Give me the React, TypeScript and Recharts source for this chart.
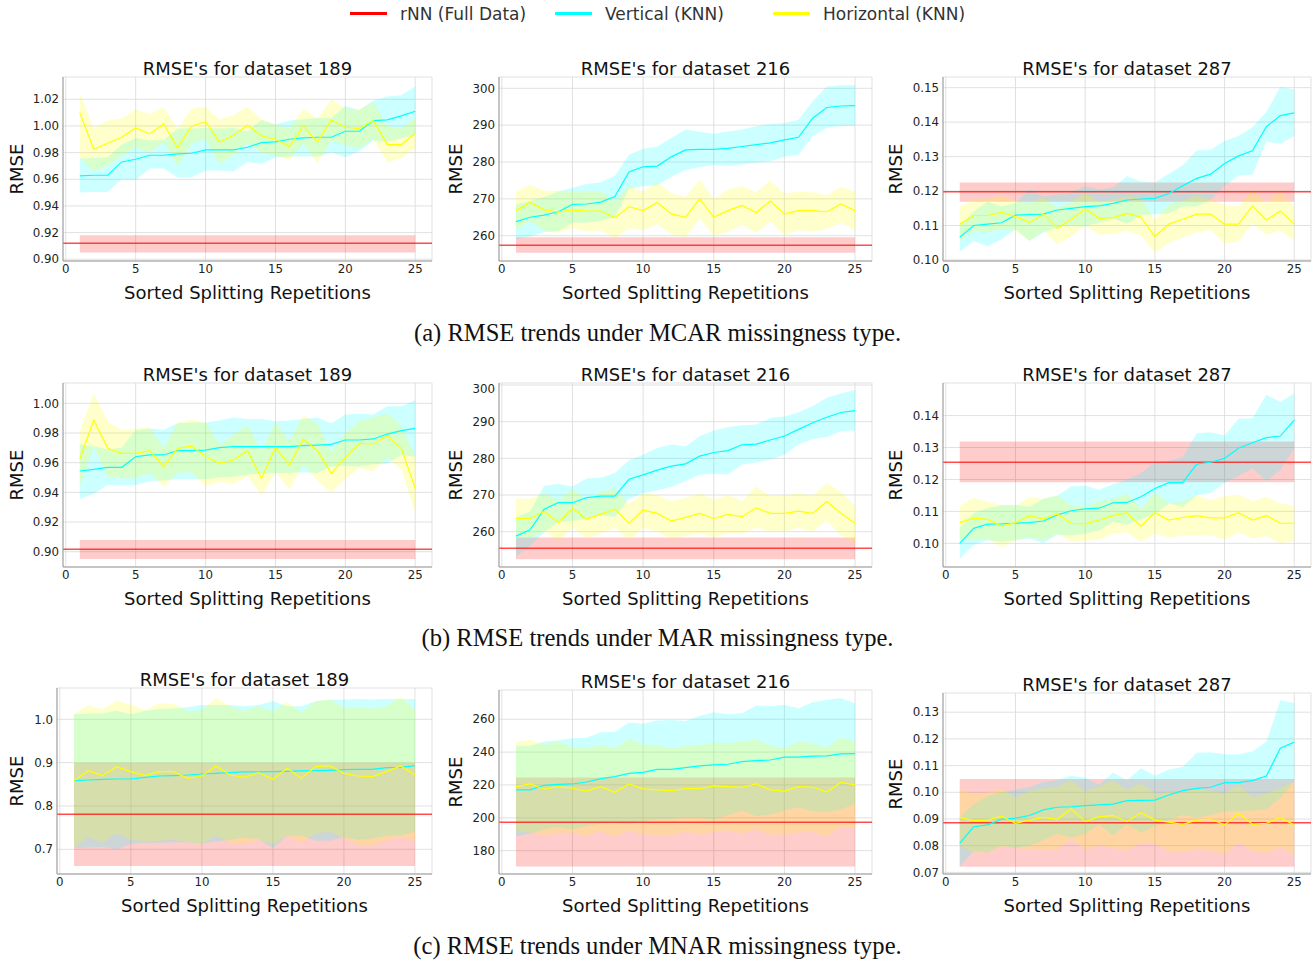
import {
  ComposedChart,
  Area,
  Line,
  XAxis,
  YAxis,
  CartesianGrid,
  ReferenceLine,
} from 'recharts'

const REPS = Array.from({ length: 25 }, (_, i) => i + 1)
const X_TICKS = [0, 5, 10, 15, 20, 25]

/* ───── MCAR ───── */
const mcar189Red = [0.912, 0.905, 0.918] // mean, lo, hi
const mcar189CyanMean = [0.9625, 0.963, 0.963, 0.973, 0.975, 0.978, 0.978, 0.979, 0.9795, 0.982, 0.982, 0.982, 0.984, 0.9875, 0.988, 0.99, 0.991, 0.9915, 0.9915, 0.996, 0.996, 1.004, 1.0045, 1.0075, 1.011]
const mcar189CyanLo = [0.95, 0.9505, 0.9505, 0.96, 0.9595, 0.968, 0.968, 0.9615, 0.9615, 0.9665, 0.9665, 0.966, 0.973, 0.9715, 0.9765, 0.977, 0.977, 0.977, 0.98, 0.9765, 0.981, 0.989, 0.988, 0.9905, 0.993]
const mcar189CyanHi = [0.9755, 0.976, 0.9765, 0.986, 0.991, 0.989, 0.9895, 0.998, 0.998, 0.9985, 0.998, 0.9985, 0.996, 1.0045, 1.001, 1.004, 1.005, 1.006, 1.006, 1.015, 1.012, 1.019, 1.022, 1.023, 1.0295]
const mcar189YellowMean = [1.01, 0.9825, 0.987, 0.9915, 0.9985, 0.994, 1.0015, 0.9835, 1.0, 1.003, 0.988, 0.993, 1.0005, 0.9925, 0.99, 0.9845, 1.0, 0.988, 1.0045, 0.999, 0.998, 1.004, 0.986, 0.986, 0.9945]
const mcar189YellowLo = [0.976, 0.966, 0.9705, 0.9775, 0.984, 0.98, 0.988, 0.97, 0.987, 0.99, 0.9715, 0.978, 0.987, 0.98, 0.978, 0.9745, 0.987, 0.972, 0.989, 0.9855, 0.9835, 0.99, 0.973, 0.9755, 0.983]
const mcar189YellowHi = [1.0245, 0.9985, 1.004, 1.0055, 1.0125, 1.009, 1.014, 0.998, 1.013, 1.0145, 1.005, 1.008, 1.0145, 1.005, 1.001, 0.998, 1.013, 1.0055, 1.02, 1.013, 1.012, 1.0175, 0.9995, 0.998, 1.006]

const mcar216Red = [257.4, 255.4, 259.6]
const mcar216CyanMean = [263.8, 265.0, 265.6, 266.5, 268.5, 268.6, 269.1, 270.6, 277.3, 278.7, 278.9, 281.4, 283.3, 283.4, 283.4, 283.7, 284.2, 284.7, 285.2, 286.0, 286.7, 291.9, 294.8, 295.2, 295.3]
const mcar216CyanLo = [259.2, 259.8, 261.0, 261.2, 263.5, 263.5, 264.0, 265.0, 272.7, 273.5, 273.7, 276.0, 277.8, 278.6, 279.2, 279.0, 279.3, 279.8, 280.2, 281.4, 282.0, 287.0, 289.3, 289.8, 289.8]
const mcar216CyanHi = [268.5, 269.5, 270.5, 272.0, 273.0, 274.0, 274.5, 276.3, 282.0, 283.6, 284.2, 286.5, 288.8, 288.2, 287.7, 288.3, 288.8, 289.7, 290.3, 290.6, 291.5, 296.5, 300.5, 300.8, 300.9]
const mcar216YellowMean = [266.8, 269.0, 267.0, 266.4, 267.0, 266.7, 266.7, 264.9, 267.9, 266.8, 269.0, 265.9, 265.0, 270.0, 265.0, 266.8, 268.2, 266.3, 269.4, 265.9, 266.8, 266.8, 266.5, 268.6, 266.8]
const mcar216YellowLo = [261.6, 264.0, 261.4, 260.7, 262.0, 261.2, 261.4, 259.3, 262.0, 261.5, 263.2, 260.3, 259.6, 264.6, 260.0, 261.0, 263.0, 260.8, 263.8, 260.2, 261.5, 261.2, 261.8, 263.5, 261.5]
const mcar216YellowHi = [272.0, 273.8, 272.2, 272.2, 272.0, 272.2, 272.0, 269.5, 273.5, 272.0, 274.5, 271.5, 270.5, 275.2, 270.0, 272.5, 273.5, 271.8, 275.0, 271.3, 272.0, 271.8, 271.0, 273.3, 272.0]

const mcar287Red = [0.1198, 0.1169, 0.1225]
const mcar287CyanMean = [0.1066, 0.11, 0.1104, 0.1108, 0.113, 0.1132, 0.1133, 0.1145, 0.115, 0.1155, 0.1157, 0.1164, 0.1174, 0.1177, 0.1179, 0.1193, 0.1215, 0.1237, 0.1249, 0.128, 0.1302, 0.1317, 0.1387, 0.1419, 0.1427]
const mcar287CyanLo = [0.1023, 0.1055, 0.104, 0.106, 0.109, 0.1055, 0.108, 0.1095, 0.11, 0.1097, 0.1108, 0.112, 0.1105, 0.113, 0.1133, 0.1135, 0.1155, 0.1155, 0.1175, 0.1215, 0.1245, 0.1248, 0.1343, 0.1337, 0.136]
const mcar287CyanHi = [0.11, 0.114, 0.117, 0.1155, 0.1165, 0.1205, 0.1185, 0.119, 0.1195, 0.1215, 0.1205, 0.121, 0.1243, 0.1228, 0.1225, 0.125, 0.1275, 0.1318, 0.132, 0.1345, 0.136, 0.1385, 0.143, 0.1502, 0.1495]
const mcar287YellowMean = [0.1104, 0.1129, 0.1129, 0.1138, 0.1126, 0.1109, 0.1133, 0.1092, 0.1118, 0.1148, 0.1121, 0.1123, 0.1135, 0.1124, 0.1068, 0.1104, 0.1118, 0.1133, 0.1133, 0.1104, 0.1104, 0.1157, 0.1116, 0.1142, 0.1104]
const mcar287YellowLo = [0.1055, 0.1085, 0.108, 0.109, 0.1085, 0.1055, 0.1085, 0.1045, 0.1068, 0.11, 0.1073, 0.1075, 0.1085, 0.1072, 0.102, 0.105, 0.1065, 0.108, 0.1087, 0.1048, 0.1055, 0.1105, 0.1073, 0.1085, 0.1055]
const mcar287YellowHi = [0.1155, 0.1175, 0.1178, 0.1188, 0.1172, 0.1165, 0.1183, 0.115, 0.1168, 0.1195, 0.117, 0.1175, 0.1185, 0.118, 0.1115, 0.116, 0.1172, 0.1187, 0.1175, 0.116, 0.1155, 0.1205, 0.1165, 0.12, 0.1155]

/* ───── MAR ───── */
const mar189Red = [0.9016, 0.8951, 0.9079]
const mar189CyanMean = [0.9544, 0.9555, 0.9569, 0.9569, 0.964, 0.9652, 0.9652, 0.9681, 0.9681, 0.9685, 0.9701, 0.9708, 0.9708, 0.9708, 0.9708, 0.9708, 0.9715, 0.9719, 0.9724, 0.9753, 0.9753, 0.976, 0.9793, 0.9816, 0.9831]
const mar189CyanLo = [0.9355, 0.939, 0.945, 0.945, 0.945, 0.9475, 0.948, 0.949, 0.949, 0.949, 0.95, 0.9505, 0.952, 0.9525, 0.953, 0.953, 0.9535, 0.953, 0.9575, 0.958, 0.9575, 0.959, 0.9595, 0.965, 0.964]
const mar189CyanHi = [0.9725, 0.971, 0.969, 0.97, 0.982, 0.983, 0.982, 0.9865, 0.987, 0.987, 0.9885, 0.9905, 0.9895, 0.9895, 0.988, 0.9885, 0.9895, 0.9905, 0.9865, 0.9925, 0.993, 0.9925, 0.998, 0.998, 1.002]
const mar189YellowMean = [0.9625, 0.9888, 0.9697, 0.9663, 0.9663, 0.9681, 0.9573, 0.9697, 0.9712, 0.964, 0.9596, 0.9618, 0.9681, 0.9494, 0.9703, 0.9584, 0.976, 0.9681, 0.9528, 0.9636, 0.973, 0.9726, 0.978, 0.9697, 0.9427]
const mar189YellowLo = [0.944, 0.971, 0.9505, 0.9495, 0.9495, 0.953, 0.944, 0.953, 0.9535, 0.944, 0.947, 0.946, 0.951, 0.938, 0.9535, 0.942, 0.959, 0.948, 0.9395, 0.949, 0.9565, 0.954, 0.9635, 0.9555, 0.926]
const mar189YellowHi = [0.981, 1.007, 0.988, 0.982, 0.983, 0.9835, 0.97, 0.987, 0.989, 0.987, 0.972, 0.979, 0.985, 0.968, 0.987, 0.9745, 0.992, 0.986, 0.967, 0.98, 0.988, 0.9905, 0.993, 0.985, 0.964]

const mar216Red = [255.45, 252.5, 258.4]
const mar216CyanMean = [258.8, 260.5, 266.1, 267.9, 267.9, 269.3, 269.7, 269.7, 274.3, 275.5, 276.8, 277.9, 278.5, 280.6, 281.6, 282.1, 283.7, 283.9, 285.0, 286.1, 287.9, 289.7, 291.2, 292.5, 293.0]
const mar216CyanLo = [253.2, 256.0, 260.0, 262.5, 263.0, 263.5, 264.5, 264.0, 269.0, 270.5, 271.3, 272.2, 273.8, 275.5, 275.8, 275.6, 278.3, 278.9, 279.6, 281.0, 283.8, 285.3, 285.8, 287.4, 287.6]
const mar216CyanHi = [264.0, 265.5, 272.5, 273.0, 272.3, 274.5, 274.7, 276.0, 279.5, 281.0, 282.8, 283.8, 283.2, 286.0, 287.6, 288.5, 289.0, 289.2, 291.0, 291.4, 292.5, 294.3, 296.5, 297.7, 298.7]
const mar216YellowMean = [263.6, 263.6, 265.5, 262.5, 266.4, 263.4, 264.8, 266.1, 262.3, 265.9, 265.0, 262.9, 263.9, 265.0, 263.6, 264.7, 264.1, 266.5, 265.0, 265.0, 265.6, 265.0, 268.2, 265.0, 262.3]
const mar216YellowLo = [258.3, 258.2, 260.2, 257.5, 261.0, 258.2, 259.5, 261.0, 257.8, 261.0, 260.0, 258.0, 258.8, 259.5, 258.5, 259.5, 259.5, 261.0, 260.0, 260.0, 261.0, 260.0, 263.0, 259.0, 256.8]
const mar216YellowHi = [269.0, 269.0, 270.5, 268.5, 271.7, 268.5, 270.8, 271.8, 267.5, 270.5, 270.0, 268.3, 269.2, 270.5, 268.8, 270.0, 268.4, 272.3, 269.8, 269.8, 270.5, 269.8, 273.2, 270.8, 267.0]

const mar287Red = [0.1254, 0.1191, 0.1319]
const mar287CyanMean = [0.1, 0.1047, 0.106, 0.1061, 0.1063, 0.1065, 0.107, 0.1089, 0.1102, 0.1108, 0.111, 0.1127, 0.1128, 0.1146, 0.1172, 0.119, 0.119, 0.1248, 0.1254, 0.1266, 0.1298, 0.1315, 0.1331, 0.1336, 0.1386]
const mar287CyanLo = [0.0952, 0.0995, 0.101, 0.1005, 0.101, 0.1015, 0.1, 0.1028, 0.1025, 0.103, 0.104, 0.1068, 0.1058, 0.1075, 0.109, 0.1125, 0.1115, 0.115, 0.1158, 0.119, 0.121, 0.1235, 0.1195, 0.123, 0.1298]
const mar287CyanHi = [0.105, 0.1095, 0.111, 0.112, 0.112, 0.1115, 0.114, 0.115, 0.1178, 0.118, 0.1168, 0.1185, 0.12, 0.122, 0.1255, 0.1258, 0.127, 0.1345, 0.1348, 0.1338, 0.139, 0.1392, 0.1465, 0.1443, 0.147]
const mar287YellowMean = [0.1065, 0.1078, 0.1075, 0.1054, 0.1065, 0.1086, 0.1077, 0.1092, 0.1063, 0.1061, 0.1073, 0.1087, 0.1096, 0.1054, 0.1096, 0.1073, 0.1081, 0.1087, 0.108, 0.108, 0.1096, 0.1073, 0.1087, 0.1063, 0.1063]
const mar287YellowLo = [0.1012, 0.1012, 0.1015, 0.0988, 0.101, 0.102, 0.101, 0.103, 0.1005, 0.1008, 0.1012, 0.103, 0.1035, 0.1005, 0.103, 0.1018, 0.1025, 0.1025, 0.1025, 0.1012, 0.1035, 0.1015, 0.1022, 0.1, 0.1008]
const mar287YellowHi = [0.1118, 0.1143, 0.113, 0.112, 0.1118, 0.1145, 0.114, 0.115, 0.112, 0.1115, 0.1132, 0.114, 0.1155, 0.1108, 0.116, 0.1125, 0.113, 0.115, 0.1135, 0.1148, 0.1152, 0.1132, 0.1145, 0.1125, 0.1118]

/* ───── MNAR ───── */
const mnar189Red = [0.7808, 0.6615, 0.9]
const mnar189CyanMean = [0.8585, 0.86, 0.8615, 0.8623, 0.8623, 0.8662, 0.8692, 0.87, 0.8715, 0.8738, 0.8754, 0.8769, 0.8785, 0.8785, 0.8792, 0.88, 0.8808, 0.8815, 0.8823, 0.8838, 0.8846, 0.8846, 0.8885, 0.8892, 0.8931]
const mnar189CyanLo = [0.703, 0.704, 0.706, 0.7, 0.713, 0.715, 0.715, 0.716, 0.716, 0.713, 0.718, 0.722, 0.727, 0.723, 0.703, 0.731, 0.731, 0.72, 0.72, 0.728, 0.722, 0.725, 0.731, 0.731, 0.741]
const mnar189CyanHi = [1.012, 1.013, 1.014, 1.02, 1.012, 1.02, 1.024, 1.025, 1.028, 1.033, 1.033, 1.033, 1.03, 1.033, 1.042, 1.03, 1.03, 1.042, 1.045, 1.045, 1.047, 1.046, 1.047, 1.047, 1.047]
const mnar189YellowMean = [0.8585, 0.8815, 0.87, 0.8908, 0.8792, 0.87, 0.8792, 0.8792, 0.8638, 0.8692, 0.8923, 0.8715, 0.8662, 0.8769, 0.8615, 0.8869, 0.8638, 0.8908, 0.8931, 0.8754, 0.8692, 0.8677, 0.8792, 0.8923, 0.8715]
const mnar189YellowLo = [0.703, 0.729, 0.715, 0.737, 0.722, 0.718, 0.72, 0.722, 0.716, 0.713, 0.732, 0.715, 0.713, 0.722, 0.713, 0.731, 0.715, 0.737, 0.74, 0.726, 0.71, 0.708, 0.722, 0.728, 0.72]
const mnar189YellowHi = [1.013, 1.032, 1.023, 1.043, 1.034, 1.021, 1.037, 1.036, 1.019, 1.021, 1.049, 1.03, 1.019, 1.03, 1.018, 1.04, 1.016, 1.042, 1.046, 1.027, 1.027, 1.025, 1.03, 1.052, 1.022]

const mnar216Red = [197.3, 170.3, 224.5]
const mnar216CyanMean = [217.0, 217.0, 219.8, 220.4, 220.6, 221.8, 223.9, 225.1, 227.1, 227.7, 229.5, 229.5, 230.6, 231.6, 232.2, 232.6, 234.2, 234.8, 235.2, 236.9, 236.9, 237.5, 237.7, 238.9, 239.1]
const mnar216CyanLo = [188.8, 190.5, 193.0, 194.5, 193.0, 195.0, 196.5, 197.0, 196.0, 198.0, 199.0, 199.0, 200.5, 200.0, 199.0, 201.5, 204.5, 201.0, 202.0, 204.5, 206.5, 204.0, 203.5, 205.0, 208.5]
const mnar216CyanHi = [243.8, 243.8, 246.4, 247.2, 248.4, 248.8, 252.1, 252.3, 258.0, 257.2, 259.2, 259.6, 259.0, 262.0, 264.3, 263.0, 263.7, 268.3, 268.1, 268.7, 266.7, 270.4, 271.8, 272.8, 269.7]
const mnar216YellowMean = [219.0, 220.6, 217.4, 219.0, 218.0, 216.3, 219.0, 215.5, 220.6, 217.6, 217.0, 216.5, 217.8, 217.8, 219.4, 219.0, 218.6, 220.6, 217.0, 216.3, 219.0, 218.6, 215.7, 221.6, 220.0]
const mnar216YellowLo = [192.5, 191.0, 189.5, 190.8, 191.0, 189.0, 192.0, 188.5, 192.5, 190.0, 189.5, 189.5, 191.5, 190.0, 191.5, 192.5, 190.5, 193.0, 190.0, 189.8, 191.0, 191.5, 188.5, 194.5, 194.0]
const mnar216YellowHi = [246.4, 247.4, 244.4, 246.4, 242.9, 242.3, 244.4, 242.3, 248.0, 244.8, 244.0, 242.3, 243.8, 244.4, 245.8, 245.4, 246.4, 247.8, 243.8, 242.3, 246.4, 245.4, 242.9, 248.8, 246.4]

const mnar287Red = [0.0886, 0.0721, 0.105]
const mnar287CyanMean = [0.0809, 0.0871, 0.0878, 0.0899, 0.0903, 0.0913, 0.0934, 0.0944, 0.0946, 0.095, 0.0953, 0.0956, 0.0969, 0.097, 0.0971, 0.099, 0.1006, 0.1015, 0.1019, 0.1036, 0.1036, 0.1044, 0.1061, 0.1165, 0.1188]
const mnar287CyanLo = [0.072, 0.078, 0.0775, 0.08, 0.079, 0.08, 0.082, 0.0845, 0.083, 0.0845, 0.088, 0.0838, 0.088, 0.0848, 0.0875, 0.0895, 0.0915, 0.0905, 0.0915, 0.0928, 0.093, 0.0932, 0.0935, 0.098, 0.104]
const mnar287CyanHi = [0.0905, 0.0955, 0.0985, 0.1, 0.101, 0.102, 0.104, 0.1045, 0.1062, 0.1055, 0.1028, 0.1073, 0.1045, 0.109, 0.1062, 0.1085, 0.1095, 0.1148, 0.115, 0.1143, 0.1143, 0.1153, 0.119, 0.1345, 0.1335]
const mnar287YellowMean = [0.0906, 0.0894, 0.0896, 0.0911, 0.0884, 0.0896, 0.0906, 0.0899, 0.0938, 0.089, 0.0909, 0.0913, 0.089, 0.0924, 0.0896, 0.0888, 0.088, 0.0896, 0.09, 0.0878, 0.0921, 0.088, 0.0884, 0.0905, 0.0878]
const mnar287YellowLo = [0.08, 0.0775, 0.0775, 0.0795, 0.079, 0.0788, 0.0785, 0.0785, 0.0825, 0.0785, 0.08, 0.079, 0.0782, 0.081, 0.0805, 0.078, 0.0775, 0.0788, 0.0782, 0.077, 0.0812, 0.078, 0.0772, 0.0795, 0.0765]
const mnar287YellowHi = [0.101, 0.0995, 0.0998, 0.1015, 0.0981, 0.1005, 0.1015, 0.102, 0.1046, 0.1003, 0.1022, 0.1044, 0.1009, 0.1034, 0.0996, 0.1, 0.1005, 0.1015, 0.1005, 0.0996, 0.1028, 0.0981, 0.0996, 0.1015, 0.104]

const TICKS_189_A = [0.9, 0.92, 0.94, 0.96, 0.98, 1.0, 1.02]
const TICKS_189_B = [0.9, 0.92, 0.94, 0.96, 0.98, 1.0]
const TICKS_189_C = [0.7, 0.8, 0.9, 1.0]
const TICKS_216_AB = [260, 270, 280, 290, 300]
const TICKS_216_C = [180, 200, 220, 240, 260]
const TICKS_287_A = [0.1, 0.11, 0.12, 0.13, 0.14, 0.15]
const TICKS_287_B = [0.1, 0.11, 0.12, 0.13, 0.14]
const TICKS_287_C = [0.07, 0.08, 0.09, 0.1, 0.11, 0.12, 0.13]

const CAPTIONS = [
  '(a) RMSE trends under MCAR missingness type.',
  '(b) RMSE trends under MAR missingness type.',
  '(c) RMSE trends under MNAR missingness type.',
]

const RED = '#ff0000'
const CYAN = '#00ffff'
const YELLOW = '#ffff00'

// plot-area boxes: [x0, y0, x1, y1]
const PANELS = [
  { title: "RMSE's for dataset 189", box: [63, 77, 432, 261], dom: [0.8987, 1.0367], ticks: TICKS_189_A, dig: 2, ylx: 17, red: mcar189Red, cm: mcar189CyanMean, cl: mcar189CyanLo, ch: mcar189CyanHi, ym: mcar189YellowMean, yl: mcar189YellowLo, yh: mcar189YellowHi },
  { title: "RMSE's for dataset 216", box: [499, 77, 872, 261], dom: [253.13, 303.07], ticks: TICKS_216_AB, dig: 0, ylx: 456, red: mcar216Red, cm: mcar216CyanMean, cl: mcar216CyanLo, ch: mcar216CyanHi, ym: mcar216YellowMean, yl: mcar216YellowLo, yh: mcar216YellowHi },
  { title: "RMSE's for dataset 287", box: [943, 77, 1311, 261], dom: [0.0997, 0.1531], ticks: TICKS_287_A, dig: 2, ylx: 896, red: mcar287Red, cm: mcar287CyanMean, cl: mcar287CyanLo, ch: mcar287CyanHi, ym: mcar287YellowMean, yl: mcar287YellowLo, yh: mcar287YellowHi },
  { title: "RMSE's for dataset 189", box: [63, 383, 432, 567], dom: [0.8897, 1.0137], ticks: TICKS_189_B, dig: 2, ylx: 17, red: mar189Red, cm: mar189CyanMean, cl: mar189CyanLo, ch: mar189CyanHi, ym: mar189YellowMean, yl: mar189YellowLo, yh: mar189YellowHi },
  { title: "RMSE's for dataset 216", box: [499, 383, 872, 567], dom: [250.37, 300.55], ticks: TICKS_216_AB, dig: 0, ylx: 456, red: mar216Red, cm: mar216CyanMean, cl: mar216CyanLo, ch: mar216CyanHi, ym: mar216YellowMean, yl: mar216YellowLo, yh: mar216YellowHi },
  { title: "RMSE's for dataset 287", box: [943, 383, 1311, 567], dom: [0.0926, 0.1502], ticks: TICKS_287_B, dig: 2, ylx: 896, red: mar287Red, cm: mar287CyanMean, cl: mar287CyanLo, ch: mar287CyanHi, ym: mar287YellowMean, yl: mar287YellowLo, yh: mar287YellowHi },
  { title: "RMSE's for dataset 189", box: [57, 688, 432, 874], dom: [0.643, 1.0723], ticks: TICKS_189_C, dig: 1, ylx: 17, red: mnar189Red, cm: mnar189CyanMean, cl: mnar189CyanLo, ch: mnar189CyanHi, ym: mnar189YellowMean, yl: mnar189YellowLo, yh: mnar189YellowHi },
  { title: "RMSE's for dataset 216", box: [499, 690, 872, 874], dom: [165.8, 277.8], ticks: TICKS_216_C, dig: 0, ylx: 456, red: mnar216Red, cm: mnar216CyanMean, cl: mnar216CyanLo, ch: mnar216CyanHi, ym: mnar216YellowMean, yl: mnar216YellowLo, yh: mnar216YellowHi },
  { title: "RMSE's for dataset 287", box: [943, 693, 1311, 874], dom: [0.0694, 0.1372], ticks: TICKS_287_C, dig: 2, ylx: 896, red: mnar287Red, cm: mnar287CyanMean, cl: mnar287CyanLo, ch: mnar287CyanHi, ym: mnar287YellowMean, yl: mnar287YellowLo, yh: mnar287YellowHi },
]

const YW = 56
const MT = 2
const MR = 2
const XH = 44
const tickStyle = { fontSize: 11.8, fill: '#222', fontFamily: 'DejaVu Sans' }

function Panel({ p }: { p: any }) {
  const [x0, y0, x1, y1] = p.box
  const left = x0 - YW
  const top = y0 - MT
  const width = x1 - x0 + YW + MR
  const height = y1 - y0 + MT + XH
  const rows = REPS.map((x, i) => ({
    x,
    redBand: [p.red[1], p.red[2]],
    cyanBand: [p.cl[i], p.ch[i]],
    yellowBand: [p.yl[i], p.yh[i]],
    cyan: p.cm[i],
    yellow: p.ym[i],
  }))
  const cy = (y0 + y1) / 2
  return (
    <>
      <div style={{ position: 'absolute', left: x0, width: x1 - x0, top: y0 - 19, height: 22, lineHeight: '22px', textAlign: 'center', fontSize: 18, color: '#111' }}>
        {p.title}
      </div>
      <div style={{ position: 'absolute', left, top }}>
        <ComposedChart width={width} height={height} data={rows} margin={{ top: MT, right: MR, bottom: 0, left: 0 }}>
          <CartesianGrid stroke="#d9d9d9" strokeWidth={0.8} />
          <XAxis
            type="number"
            dataKey="x"
            domain={[-0.2, 26.2]}
            ticks={X_TICKS}
            allowDataOverflow
            height={XH}
            axisLine={{ stroke: '#999' }}
            tickLine={false}
            tickSize={4}
            tickMargin={0}
            tick={tickStyle}
          />
          <YAxis
            type="number"
            domain={p.dom}
            ticks={p.ticks}
            allowDataOverflow
            width={YW}
            axisLine={{ stroke: '#999' }}
            tickLine={false}
            tickSize={3}
            tickMargin={1}
            tick={tickStyle}
            tickFormatter={(v: number) => v.toFixed(p.dig)}
          />
          <Area type="linear" dataKey="redBand" stroke="none" fill={RED} fillOpacity={0.2} activeDot={false} isAnimationActive={false} />
          <Area type="linear" dataKey="cyanBand" stroke="none" fill={CYAN} fillOpacity={0.2} activeDot={false} isAnimationActive={false} />
          <Area type="linear" dataKey="yellowBand" stroke="none" fill={YELLOW} fillOpacity={0.2} activeDot={false} isAnimationActive={false} />
          <ReferenceLine y={p.red[0]} stroke={RED} strokeOpacity={0.7} strokeWidth={1.5} />
          <Line type="linear" dataKey="cyan" stroke={CYAN} strokeWidth={1.2} dot={false} activeDot={false} isAnimationActive={false} />
          <Line type="linear" dataKey="yellow" stroke={YELLOW} strokeWidth={1.2} dot={false} activeDot={false} isAnimationActive={false} />
        </ComposedChart>
      </div>
      <div style={{ position: 'absolute', left: p.ylx - 50, top: cy - 11, width: 100, height: 22, lineHeight: '22px', textAlign: 'center', fontSize: 18, color: '#111', transform: 'rotate(-90deg)' }}>
        RMSE
      </div>
      <div style={{ position: 'absolute', left: x0, width: x1 - x0, top: y1 + 21, height: 22, lineHeight: '22px', textAlign: 'center', fontSize: 18, color: '#111' }}>
        Sorted Splitting Repetitions
      </div>
    </>
  )
}

function LegendItem({ x, color, label }: { x: number; color: string; label: string }) {
  return (
    <>
      <div style={{ position: 'absolute', left: x, top: 12, width: 37, height: 3, background: color }} />
      <div style={{ position: 'absolute', left: x + 50, top: 3, height: 22, lineHeight: '22px', fontSize: 17, color: '#333', whiteSpace: 'nowrap' }}>
        {label}
      </div>
    </>
  )
}

export default function App() {
  return (
    <div style={{ position: 'absolute', left: 0, top: 0, width: 1315, height: 961, background: '#fff', fontFamily: 'DejaVu Sans', overflow: 'hidden' }}>
      <LegendItem x={350} color={RED} label="rNN (Full Data)" />
      <LegendItem x={555} color={CYAN} label="Vertical (KNN)" />
      <LegendItem x={773} color={YELLOW} label="Horizontal (KNN)" />
      {PANELS.map((p, i) => (
        <Panel key={i} p={p} />
      ))}
      {CAPTIONS.map((c, i) => (
        <div
          key={c}
          style={{ position: 'absolute', left: 0, width: 1315, top: [333, 638, 946][i] - 14, height: 28, lineHeight: '28px', textAlign: 'center', fontFamily: 'Liberation Serif', fontSize: 24.6, color: '#111' }}
        >
          {c}
        </div>
      ))}
    </div>
  )
}
